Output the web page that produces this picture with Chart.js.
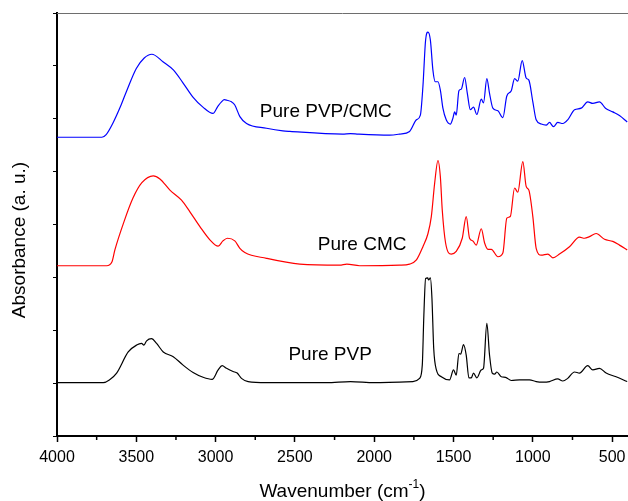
<!DOCTYPE html>
<html>
<head>
<meta charset="utf-8">
<title>FTIR spectra</title>
<script src="https://cdn.jsdelivr.net/npm/chart.js@4/dist/chart.umd.min.js"></script>
<style>
  html, body { margin: 0; padding: 0; background: #fff; }
  #wrap { width: 628px; height: 501px; position: relative; }
</style>
</head>
<body>
<div id="wrap"><canvas id="c"></canvas></div>
<script>
// Spectra as [wavenumber (cm-1), absorbance (a.u., stacked offset)]
const pvpCmc = [
  [4000,5.65],[3717,5.65],[3690,5.70],[3647,5.92],[3600,6.23],[3559,6.54],[3500,6.95],[3450,7.15],
  [3402,7.22],[3332,7.08],[3265,6.92],[3206,6.68],[3143,6.41],[3080,6.22],[3017,6.10],[2985,6.24],
  [2963,6.32],[2945,6.36],[2929,6.35],[2900,6.32],[2879,6.26],[2847,6.04],[2805,5.91],[2679,5.82],
  [2576,5.77],[2532,5.76],[2200,5.71],[2150,5.72],[2100,5.71],[1903,5.69],[1840,5.71],[1777,5.76],
  [1734,5.98],[1709,6.07],[1693,6.61],[1676,7.49],[1661,7.64],[1646,7.49],[1630,6.92],[1615,6.70],
  [1598,6.70],[1583,6.54],[1567,6.20],[1546,5.98],[1520,5.90],[1504,6.01],[1493,6.13],[1483,6.07],
  [1466,6.53],[1451,6.56],[1430,6.78],[1413,6.48],[1394,6.17],[1374,6.22],[1353,6.08],[1325,6.37],
  [1311,6.30],[1290,6.76],[1273,6.48],[1252,6.20],[1220,6.15],[1189,6.02],[1164,6.43],[1136,6.53],
  [1115,6.76],[1095,6.71],[1067,7.10],[1042,6.77],[1025,6.73],[1000,6.32],[979,5.98],[947,5.90],
  [916,5.88],[895,5.93],[870,5.85],[843,5.93],[811,5.91],[780,5.98],[737,6.17],[695,6.20],
  [654,6.32],[622,6.29],[580,6.32],[542,6.20],[496,6.13],[454,6.06],[405,5.94]
];

const pureCmc = [
  [4000,3.22],[3687,3.22],[3654,3.29],[3635,3.52],[3578,4.05],[3521,4.50],[3465,4.79],[3393,4.92],
  [3351,4.86],[3288,4.65],[3215,4.46],[3162,4.24],[3099,3.96],[3036,3.71],[2984,3.59],[2954,3.69],
  [2925,3.74],[2879,3.69],[2847,3.55],[2816,3.47],[2679,3.36],[2469,3.25],[2218,3.23],[2173,3.25],
  [2092,3.22],[1840,3.23],[1777,3.25],[1734,3.33],[1693,3.58],[1661,3.83],[1640,4.15],[1619,4.78],
  [1598,5.21],[1583,4.90],[1571,4.27],[1550,3.65],[1514,3.44],[1483,3.49],[1445,3.74],[1420,4.15],
  [1399,3.74],[1378,3.69],[1357,3.61],[1325,3.92],[1304,3.65],[1283,3.53],[1262,3.53],[1220,3.39],
  [1189,3.46],[1164,4.12],[1142,4.15],[1115,4.69],[1095,4.61],[1063,5.19],[1042,4.72],[1025,4.65],
  [1000,4.15],[979,3.55],[947,3.42],[905,3.44],[874,3.37],[832,3.44],[769,3.58],[706,3.76],
  [674,3.74],[643,3.77],[601,3.83],[548,3.72],[496,3.68],[454,3.61],[405,3.52]
];

const purePvp = [
  [4000,1.01],[3708,1.01],[3670,1.06],[3624,1.19],[3551,1.59],[3498,1.72],[3467,1.75],[3452,1.72],
  [3435,1.80],[3404,1.84],[3372,1.75],[3330,1.59],[3267,1.50],[3205,1.34],[3142,1.20],[3079,1.11],
  [3022,1.07],[2984,1.25],[2959,1.33],[2931,1.28],[2890,1.22],[2864,1.19],[2837,1.09],[2795,1.03],
  [2679,1.01],[2300,1.01],[2150,1.03],[2000,1.01],[1840,1.02],[1756,1.03],[1714,1.09],[1697,1.34],
  [1687,2.29],[1676,2.98],[1663,2.99],[1657,2.95],[1646,2.99],[1636,2.60],[1625,1.66],[1608,1.25],
  [1577,1.12],[1525,1.06],[1500,1.25],[1483,1.15],[1466,1.56],[1455,1.55],[1437,1.73],[1420,1.53],
  [1403,1.10],[1388,1.10],[1374,1.19],[1353,1.10],[1325,1.25],[1311,1.28],[1290,2.13],[1273,1.53],
  [1256,1.19],[1241,1.17],[1227,1.21],[1199,1.12],[1172,1.11],[1136,1.05],[1084,1.06],[1021,1.06],
  [979,1.03],[937,1.02],[895,1.03],[843,1.08],[811,1.04],[780,1.09],[737,1.21],[706,1.19],
  [654,1.33],[622,1.25],[580,1.28],[538,1.19],[475,1.12],[405,1.03]
];

const majorTicks = [4000, 3500, 3000, 2500, 2000, 1500, 1000, 500];
const minorTicks = [3750, 3250, 2750, 2250, 1750, 1250, 750];
const yTicks = [0, 1, 2, 3, 4, 5, 6, 7, 8];

// Curve labels: [text, wavenumber, absorbance] (left edge / baseline)
const curveLabels = [
  ['Pure PVP/CMC', 2721, 6.03],
  ['Pure CMC', 2356, 3.52],
  ['Pure PVP', 2541, 1.44]
];

const FONT = '"Liberation Sans", Arial, Helvetica, sans-serif';
const toXY = arr => arr.map(([x, y]) => ({ x, y }));

const decorations = {
  id: 'decorations',
  afterDraw(chart) {
    const { ctx, chartArea: a, scales: { x, y } } = chart;
    ctx.save();
    // thin top frame line
    ctx.strokeStyle = '#6e6e6e';
    ctx.lineWidth = 1;
    ctx.beginPath();
    ctx.moveTo(a.left, Math.round(a.top) + 0.5);
    ctx.lineTo(a.right, Math.round(a.top) + 0.5);
    ctx.stroke();
    // minor ticks on the wavenumber axis
    ctx.strokeStyle = '#000';
    ctx.lineWidth = 1.5;
    minorTicks.forEach(v => {
      const px = x.getPixelForValue(v);
      ctx.beginPath();
      ctx.moveTo(px, a.bottom);
      ctx.lineTo(px, a.bottom + 4);
      ctx.stroke();
    });
    // curve labels
    ctx.fillStyle = '#000';
    ctx.font = '19px ' + FONT;
    ctx.textAlign = 'left';
    ctx.textBaseline = 'alphabetic';
    curveLabels.forEach(([t, w, v]) => {
      ctx.fillText(t, x.getPixelForValue(w), y.getPixelForValue(v));
    });
    // x axis title with superscript
    const main = 'Wavenumber (cm';
    const sup = '-1';
    const close = ')';
    ctx.font = '19px ' + FONT;
    const wMain = ctx.measureText(main).width;
    const wClose = ctx.measureText(close).width;
    ctx.font = '12px ' + FONT;
    const wSup = ctx.measureText(sup).width;
    const total = wMain + wSup + wClose;
    let sx = (a.left + a.right) / 2 - total / 2;
    const base = 497;
    ctx.font = '19px ' + FONT;
    ctx.fillText(main, sx, base);
    ctx.font = '12px ' + FONT;
    ctx.fillText(sup, sx + wMain, base - 9);
    ctx.font = '19px ' + FONT;
    ctx.fillText(close, sx + wMain + wSup, base);
    // y axis title
    ctx.translate(20, 240);
    ctx.rotate(-Math.PI / 2);
    ctx.textAlign = 'center';
    ctx.textBaseline = 'middle';
    ctx.font = '19px ' + FONT;
    ctx.fillText('Absorbance (a. u.)', 0, 0);
    ctx.restore();
  }
};

const common = { pointRadius: 0, borderWidth: 1.2, fill: false, cubicInterpolationMode: 'monotone' };

new Chart(document.getElementById('c'), {
  type: 'line',
  data: {
    datasets: [
      Object.assign({ label: 'Pure PVP/CMC', data: toXY(pvpCmc), borderColor: '#0000ff' }, common),
      Object.assign({ label: 'Pure CMC', data: toXY(pureCmc), borderColor: '#ff0000' }, common),
      Object.assign({ label: 'Pure PVP', data: toXY(purePvp), borderColor: '#000000' }, common)
    ]
  },
  options: {
    responsive: true,
    maintainAspectRatio: false,
    animation: false,
    events: [],
    layout: { padding: { top: 13, left: 0, right: 0, bottom: 0 } },
    plugins: { legend: { display: false }, tooltip: { enabled: false } },
    scales: {
      x: {
        type: 'linear',
        reverse: true,
        min: 400,
        max: 4000,
        afterBuildTicks: s => { s.ticks = majorTicks.map(v => ({ value: v })); },
        afterFit: s => { s.height = 65; s.paddingLeft = 0; s.paddingRight = 0; },
        ticks: {
          autoSkip: false, maxRotation: 0, padding: 6,
          color: '#000', font: { family: FONT, size: 16 },
          callback: v => String(v)
        },
        grid: { drawOnChartArea: false, drawTicks: true, tickLength: 6, tickColor: '#000', tickWidth: 1.5 },
        border: { color: '#000', width: 2 }
      },
      y: {
        type: 'linear',
        min: 0,
        max: 8,
        afterBuildTicks: s => { s.ticks = yTicks.map(v => ({ value: v })); },
        afterFit: s => { s.width = 57; s.paddingTop = 0; s.paddingBottom = 0; },
        ticks: { display: false },
        grid: { drawOnChartArea: false, drawTicks: true, tickLength: 4, tickColor: '#000', tickWidth: 1 },
        border: { color: '#000', width: 2 }
      }
    }
  },
  plugins: [decorations]
});
</script>
</body>
</html>
